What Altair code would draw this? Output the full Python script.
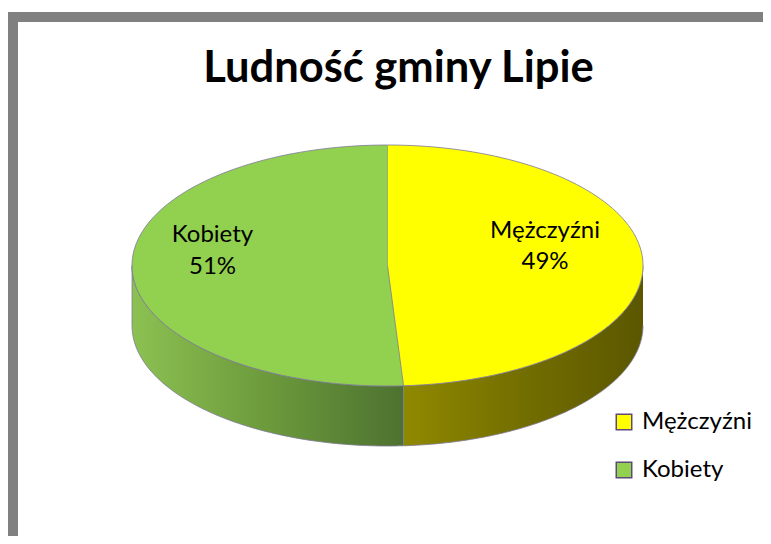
import altair as alt
import pandas as pd

# ---- data ----
title_text = ["Ludność gminy Lipie"]
categories = ["Mężczyźni", "Kobiety"]
values = [49, 51]
colors = ["#ffff00", "#92d050"]

df = pd.DataFrame({"kategoria": categories, "wartosc": values,
                   "kolejnosc": list(range(len(categories)))})

# ---- geometry / style constants ----
W, H = 755, 528
CX, CY, A, B, DEPTH = 379.5, 257.5, 255.5, 120.5, 60
R_LAB, SHIFT = 0.651, -8.75
EDGE = "#7d7896"
FONT = "Lato"

xs = alt.X("px:Q", scale=alt.Scale(domain=[0, W], range=[0, W], nice=False, zero=False), axis=None)
ys = alt.Y("py:Q", scale=alt.Scale(domain=[0, H], range=[0, H], nice=False, zero=False), axis=None)

base = alt.Chart(df).transform_joinaggregate(
    total="sum(wartosc)"
).transform_window(
    cum="sum(wartosc)", sort=[alt.SortField("kolejnosc")], frame=[None, 0]
).transform_calculate(
    start="2*PI*(datum.cum - datum.wartosc)/datum.total",
    end="2*PI*datum.cum/datum.total",
)


def side(cat, stops):
    return base.transform_filter(
        alt.datum.kategoria == cat
    ).transform_calculate(
        s="max(datum.start, PI/2)", e="min(datum.end, 3*PI/2)"
    ).transform_filter(
        "datum.s < datum.e"
    ).transform_calculate(
        ks="sequence(0, 202)"
    ).transform_flatten(
        ["ks"], as_=["k"]
    ).transform_calculate(
        t="datum.k <= 100 ? datum.k/100 : (201 - datum.k)/100"
    ).transform_calculate(
        ang="datum.s + (datum.e - datum.s) * datum.t"
    ).transform_calculate(
        px=f"{CX} + {A} * sin(datum.ang)",
        py=f"{CY} - {B} * cos(datum.ang) + (datum.k <= 100 ? 0 : {DEPTH})",
    ).mark_line(
        fill=alt.Gradient(
            gradient="linear", x1=0, x2=1, y1=0, y2=0,
            stops=[alt.GradientStop(color=c, offset=o) for o, c in stops],
        ),
        stroke=EDGE, strokeWidth=0.8, strokeJoin="round",
    ).encode(x=xs, y=ys, order="k:Q")


side_m = side("Mężczyźni", [(0, "#8f8900"), (0.5, "#736e00"), (1, "#5b5700")])
side_k = side("Kobiety", [(0, "#8cc152"), (0.5, "#6c9a3c"), (1, "#4d7230")])

top = base.transform_calculate(
    ks="sequence(-1, 101)"
).transform_flatten(
    ["ks"], as_=["k"]
).transform_calculate(
    ang="datum.start + (datum.end - datum.start) * max(datum.k, 0) / 100"
).transform_calculate(
    px=f"datum.k < 0 ? {CX} : {CX} + {A} * sin(datum.ang)",
    py=f"datum.k < 0 ? {CY} : {CY} - {B} * cos(datum.ang)",
).mark_line(
    stroke=EDGE, strokeWidth=0.8, strokeJoin="round"
).encode(
    x=xs, y=ys,
    fill=alt.Fill(
        "kategoria:N",
        scale=alt.Scale(domain=categories, range=colors),
        legend=alt.Legend(
            orient="none", legendX=604, legendY=402, title=None,
            symbolType="square", symbolSize=240, symbolStrokeColor="#5f497a",
            symbolStrokeWidth=1.5, symbolOpacity=1,
            labelFont=FONT, labelFontSize=24, labelColor="black", labelOffset=6,
            rowPadding=24, padding=0,
        ),
    ),
    detail="kategoria:N",
    order="k:Q",
)

labels = base.transform_calculate(
    mid="(datum.start + datum.end)/2"
).transform_calculate(
    px=f"{CX + SHIFT} + {R_LAB * A} * sin(datum.mid)",
    py=f"{CY - 25.5} - {R_LAB * B} * cos(datum.mid)",
    txt="datum.kategoria + '\\n' + format(datum.wartosc/datum.total, '.0%')",
).mark_text(
    font=FONT, fontSize=24, lineBreak="\n", lineHeight=31.5,
    align="center", baseline="alphabetic", color="black",
).encode(x=xs, y=ys, text="txt:N")

tdf = pd.DataFrame({"t": title_text})
title = alt.Chart(tdf).mark_text(
    font=FONT, fontSize=43.5, fontWeight="bold", align="center",
    baseline="alphabetic", color="black",
).encode(x=alt.value(390.5), y=alt.value(74), text="t:N")

frame_df = pd.DataFrame({"f": [0]})
frame_top = alt.Chart(frame_df).mark_rect(color="#808080").encode(
    x=alt.value(0), x2=alt.value(W), y=alt.value(4), y2=alt.value(14))
frame_left = alt.Chart(frame_df).mark_rect(color="#808080").encode(
    x=alt.value(0), x2=alt.value(10), y=alt.value(4), y2=alt.value(H))

chart = alt.layer(
    frame_top, frame_left, side_k, side_m, top, labels, title
).properties(
    width=W, height=H, autosize=alt.AutoSizeParams(type="none"), padding=0,
    background="white",
).configure_view(stroke=None)

chart.save("out.html", embed_options={"renderer": "svg", "actions": False})
